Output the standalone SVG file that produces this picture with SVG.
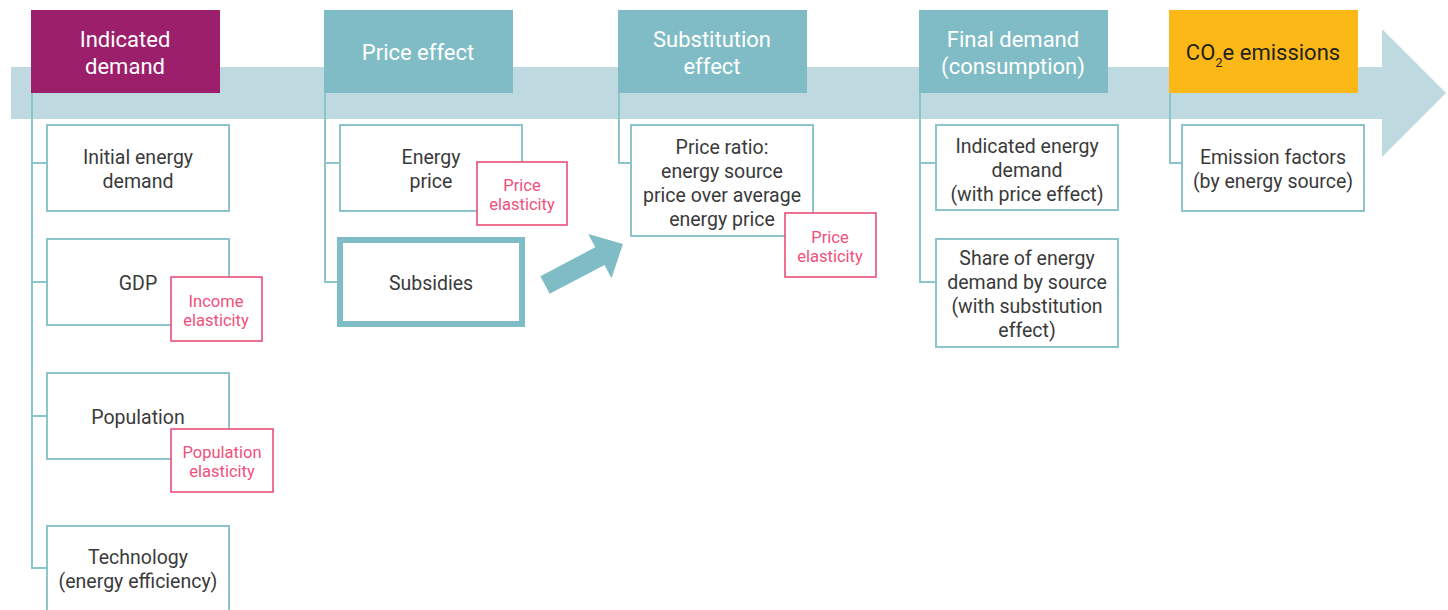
<svg xmlns="http://www.w3.org/2000/svg" width="1448" height="610" viewBox="0 0 1448 610">
<defs>
<style>
.band{fill:#bed9df}
.hdr{fill:#7fbcc5}
.hdr-ind{fill:#9c1f6b}
.hdr-co2{fill:#fbb817}
.ht{font-family:Roboto,"Liberation Sans",sans-serif;font-size:22px;fill:#ffffff;text-anchor:middle}
.ht-dark{fill:#222222}
.box{fill:#ffffff;stroke:#8cc4cc;stroke-width:2}
.box-thick{fill:#ffffff;stroke:#80bcc5;stroke-width:6}
.el{fill:#ffffff;stroke:#e8436e;stroke-width:1.5}
.bt{font-family:Roboto,"Liberation Sans",sans-serif;font-size:19.5px;fill:#3a3a3a;text-anchor:middle}
.et{font-family:Roboto,"Liberation Sans",sans-serif;font-size:16.5px;fill:#f0507a;text-anchor:middle}
.conn{fill:none;stroke:#8cc4cc;stroke-width:2}
</style>
</defs>
<rect width="1448" height="610" fill="#ffffff"/>
<g id="timeline">
<rect class="band" x="11" y="67" width="1371" height="52"/>
<polygon class="band" points="1382,29 1446,93 1382,157"/>
</g>
<g id="connectors">
<polyline class="conn" points="32,93 32,568 47,568"/>
<line class="conn" x1="32" y1="163" x2="47" y2="163"/>
<line class="conn" x1="32" y1="282" x2="47" y2="282"/>
<line class="conn" x1="32" y1="416" x2="47" y2="416"/>
<polyline class="conn" points="325,93 325,282 340,282"/>
<line class="conn" x1="325" y1="163" x2="340" y2="163"/>
<polyline class="conn" points="619,93 619,163 631,163"/>
<polyline class="conn" points="920,93 920,282 936,282"/>
<line class="conn" x1="920" y1="163" x2="936" y2="163"/>
<polyline class="conn" points="1170,93 1170,163 1182,163"/>
<polygon fill="#80bcc5" transform="translate(545,285) rotate(-27.7)" points="0,-10 62,-10 62,-25 88,0 62,25 62,10 0,10"/>
</g>
<g id="h-indicated">
<rect class="hdr-ind" x="31" y="10" width="189" height="83"/>
<text class="ht" x="125" y="47">Indicated</text>
<text class="ht" x="125" y="74">demand</text>
</g>
<g id="h-price">
<rect class="hdr" x="324" y="10" width="189" height="83"/>
<text class="ht" x="418" y="60">Price effect</text>
</g>
<g id="h-subst">
<rect class="hdr" x="618" y="10" width="189" height="83"/>
<text class="ht" x="712" y="47">Substitution</text>
<text class="ht" x="712" y="74">effect</text>
</g>
<g id="h-final">
<rect class="hdr" x="919" y="10" width="189" height="83"/>
<text class="ht" x="1013" y="47">Final demand</text>
<text class="ht" x="1013" y="74">(consumption)</text>
</g>
<g id="h-co2">
<rect class="hdr-co2" x="1169" y="10" width="189" height="83"/>
<text class="ht ht-dark" x="1263" y="60">CO<tspan font-size="13" dy="7">2</tspan><tspan dy="-7">e emissions</tspan></text>
</g>
<g id="n-initial">
<rect class="box" x="47" y="125" width="182" height="86"/>
<text class="bt" x="138" y="164">Initial energy</text>
<text class="bt" x="138" y="188">demand</text>
</g>
<g id="n-gdp">
<rect class="box" x="47" y="239" width="182" height="86"/>
<text class="bt" x="138" y="290">GDP</text>
</g>
<g id="n-income-el">
<rect class="el" x="171" y="277" width="91" height="64"/>
<text class="et" x="216" y="307">Income</text>
<text class="et" x="216" y="326">elasticity</text>
</g>
<g id="n-population">
<rect class="box" x="47" y="373" width="182" height="86"/>
<text class="bt" x="138" y="424">Population</text>
</g>
<g id="n-pop-el">
<rect class="el" x="171" y="429" width="102" height="63"/>
<text class="et" x="222" y="458">Population</text>
<text class="et" x="222" y="477">elasticity</text>
</g>
<g id="n-technology">
<rect class="box" x="47" y="526" width="182" height="100"/>
<text class="bt" x="138" y="564">Technology</text>
<text class="bt" x="138" y="588">(energy efficiency)</text>
</g>
<g id="n-energy-price">
<rect class="box" x="340" y="125" width="182" height="86"/>
<text class="bt" x="431" y="164">Energy</text>
<text class="bt" x="431" y="188">price</text>
</g>
<g id="n-price-el-1">
<rect class="el" x="477" y="162" width="90" height="63"/>
<text class="et" x="522" y="191">Price</text>
<text class="et" x="522" y="210">elasticity</text>
</g>
<g id="n-subsidies">
<rect class="box-thick" x="340" y="240" width="182" height="84"/>
<text class="bt" x="431" y="290">Subsidies</text>
</g>
<g id="n-price-ratio">
<rect class="box" x="631" y="125" width="182" height="111"/>
<text class="bt" x="722" y="154">Price ratio:</text>
<text class="bt" x="722" y="178">energy source</text>
<text class="bt" x="722" y="202">price over average</text>
<text class="bt" x="722" y="226">energy price</text>
</g>
<g id="n-price-el-2">
<rect class="el" x="785" y="213" width="91" height="64"/>
<text class="et" x="830" y="243">Price</text>
<text class="et" x="830" y="262">elasticity</text>
</g>
<g id="n-ind-energy">
<rect class="box" x="936" y="125" width="182" height="85"/>
<text class="bt" x="1027" y="153">Indicated energy</text>
<text class="bt" x="1027" y="177">demand</text>
<text class="bt" x="1027" y="201">(with price effect)</text>
</g>
<g id="n-share">
<rect class="box" x="936" y="239" width="182" height="108"/>
<text class="bt" x="1027" y="265">Share of energy</text>
<text class="bt" x="1027" y="289">demand by source</text>
<text class="bt" x="1027" y="313">(with substitution</text>
<text class="bt" x="1027" y="337">effect)</text>
</g>
<g id="n-emission">
<rect class="box" x="1182" y="125" width="182" height="86"/>
<text class="bt" x="1273" y="164">Emission factors</text>
<text class="bt" x="1273" y="188">(by energy source)</text>
</g>
</svg>
